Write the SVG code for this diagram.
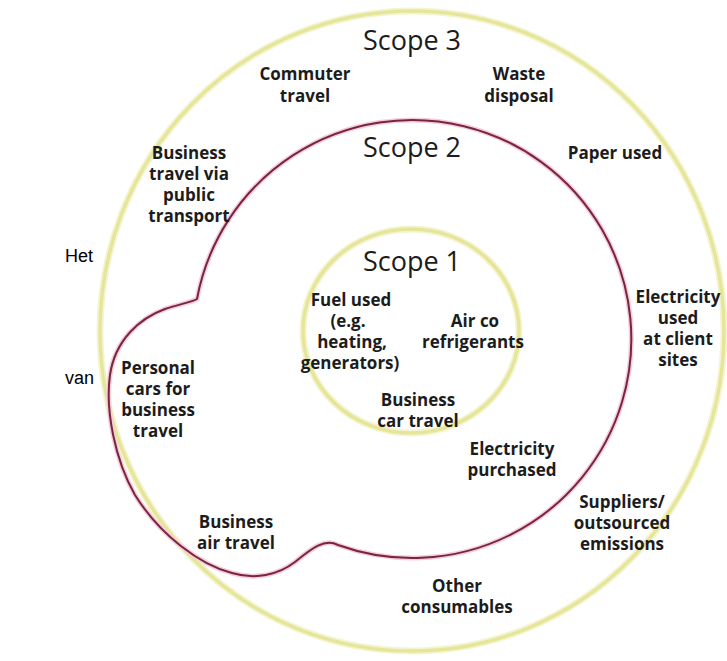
<svg xmlns="http://www.w3.org/2000/svg" width="727" height="661" viewBox="0 0 727 661">
<style>
.bg{fill:#ffffff}
.ring{fill:none;stroke:#e6e69a;stroke-width:3.5}
.glow{fill:none;stroke:#f4f4d2;stroke-width:7}
.scope2{fill:none;stroke:#7b2343;stroke-width:2}
.scope2glow{fill:none;stroke:#f3cfd8;stroke-width:5}
.lbl{font-family:"Open Sans","Noto Sans",sans-serif;font-weight:700;font-size:17px;fill:#1c1c1c;text-anchor:middle}
.title{font-family:"Open Sans","Noto Sans",sans-serif;font-weight:400;font-size:27px;fill:#1c1c1c;text-anchor:middle}
.side{font-family:"Liberation Sans",Arial,sans-serif;font-size:18px;fill:#000000}
</style>
<rect class="bg" x="0" y="0" width="727" height="661"/>
<g id="side-text">
<text class="side" x="65" y="262">Het</text>
<text class="side" x="65" y="384">van</text>
</g>
<g id="scope3">
<ellipse class="glow" cx="412" cy="331" rx="312" ry="320"/>
<ellipse class="ring" cx="412" cy="331" rx="312" ry="320"/>
<text class="title" x="412" y="50">Scope 3</text>
</g>
<g id="scope2">
<path class="scope2glow" d="M197 299 A219 219 0 1 1 338 545 C325 538 312 548 295 562 C278 575 255 580 232 573 C200 565 160 535 135 495 C115 460 105 410 110 375 C115 340 140 318 165 309 C180 304 192 302 197 299 Z"/>
<path class="scope2" d="M197 299 A219 219 0 1 1 338 545 C325 538 312 548 295 562 C278 575 255 580 232 573 C200 565 160 535 135 495 C115 460 105 410 110 375 C115 340 140 318 165 309 C180 304 192 302 197 299 Z"/>
<text class="title" x="412" y="157">Scope 2</text>
</g>
<g id="scope1">
<ellipse class="glow" cx="411" cy="331" rx="108" ry="102"/>
<ellipse class="ring" cx="411" cy="331" rx="108" ry="102"/>
<text class="title" x="412" y="271">Scope 1</text>
</g>
<g id="commuter-travel"><text class="lbl" x="305" y="80">Commuter</text><text class="lbl" x="305" y="102">travel</text></g>
<g id="waste-disposal"><text class="lbl" x="519" y="80">Waste</text><text class="lbl" x="519" y="102">disposal</text></g>
<g id="business-travel-public"><text class="lbl" x="189" y="159">Business</text><text class="lbl" x="189" y="180">travel via</text><text class="lbl" x="189" y="201">public</text><text class="lbl" x="189" y="222">transport</text></g>
<g id="paper-used"><text class="lbl" x="615" y="159">Paper used</text></g>
<g id="fuel-used"><text class="lbl" x="351" y="306">Fuel used</text><text class="lbl" x="348" y="327">(e.g.</text><text class="lbl" x="352" y="348">heating,</text><text class="lbl" x="350" y="369">generators)</text></g>
<g id="air-co"><text class="lbl" x="475" y="327">Air co</text><text class="lbl" x="473" y="348">refrigerants</text></g>
<g id="business-car-travel"><text class="lbl" x="418" y="406">Business</text><text class="lbl" x="418" y="427">car travel</text></g>
<g id="electricity-client"><text class="lbl" x="678" y="303">Electricity</text><text class="lbl" x="678" y="324">used</text><text class="lbl" x="678" y="345">at client</text><text class="lbl" x="678" y="366">sites</text></g>
<g id="personal-cars"><text class="lbl" x="158" y="374">Personal</text><text class="lbl" x="158" y="395">cars for</text><text class="lbl" x="158" y="416">business</text><text class="lbl" x="158" y="437">travel</text></g>
<g id="electricity-purchased"><text class="lbl" x="512" y="455">Electricity</text><text class="lbl" x="512" y="476">purchased</text></g>
<g id="suppliers"><text class="lbl" x="622" y="508">Suppliers/</text><text class="lbl" x="622" y="529">outsourced</text><text class="lbl" x="622" y="550">emissions</text></g>
<g id="business-air-travel"><text class="lbl" x="236" y="528">Business</text><text class="lbl" x="236" y="549">air travel</text></g>
<g id="other-consumables"><text class="lbl" x="457" y="592">Other</text><text class="lbl" x="457" y="613">consumables</text></g>
<g id="connectors"></g>
</svg>
